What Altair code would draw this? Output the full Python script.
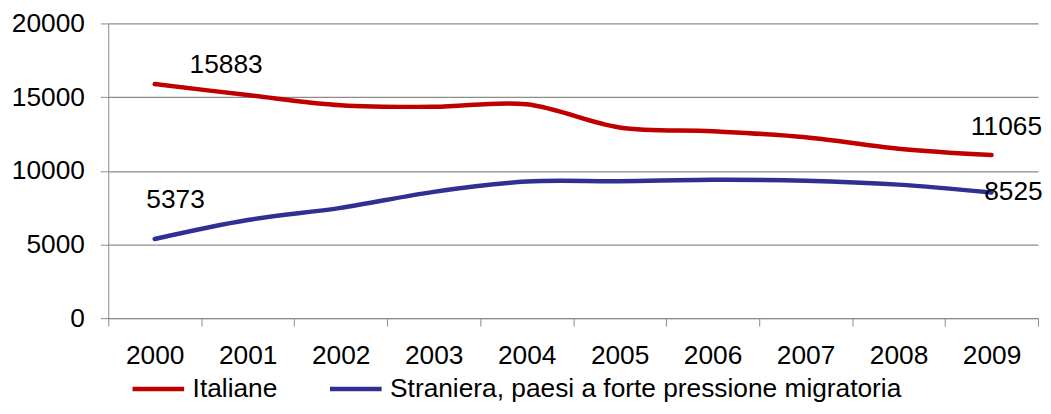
import altair as alt
import pandas as pd

years = ["2000", "2001", "2002", "2003", "2004", "2005", "2006", "2007", "2008", "2009"]
italiane = [15883, 15140, 14450, 14340, 14510, 12940, 12680, 12280, 11500, 11065]
straniera = [5373, 6660, 7480, 8570, 9270, 9290, 9390, 9330, 9060, 8525]
series_names = ["Italiane", "Straniera, paesi a forte pressione migratoria"]
colors = ["#C00000", "#2E3192"]

rows = []
for name, vals in zip(series_names, [italiane, straniera]):
    for y, v in zip(years, vals):
        rows.append({"anno": y, "valore": v, "serie": name})
df = pd.DataFrame(rows)

FONT = "Liberation Sans"
FS = 26.5
GRID = "#8C8C8C"

x = alt.X("anno:O", title=None,
          scale=alt.Scale(domain=years, paddingInner=0, paddingOuter=0),
          axis=alt.Axis(labelAngle=0, tickBand="extent", domainColor=GRID, tickColor=GRID,
                        tickSize=8, labelPadding=17, labelFont=FONT, labelFontSize=FS,
                        labelColor="#000000", grid=False))
y = alt.Y("valore:Q", title=None,
          scale=alt.Scale(domain=[0, 20000], nice=False),
          axis=alt.Axis(values=[0, 5000, 10000, 15000, 20000], format="d",
                        domainColor=GRID, tickColor=GRID, tickSize=8, labelPadding=16,
                        labelFont=FONT, labelFontSize=FS, labelColor="#000000",
                        grid=True, gridColor=GRID, gridWidth=1.3))

lines = alt.Chart(df).mark_line(strokeWidth=4.5, interpolate="catmull-rom", strokeCap="round").encode(
    x=x, y=y,
    color=alt.Color("serie:N",
                    scale=alt.Scale(domain=series_names, range=colors),
                    legend=alt.Legend(title=None, orient="none", direction="horizontal",
                                      legendX=22, legendY=340,
                                      symbolType="stroke", symbolSize=2704,
                                      symbolStrokeWidth=4.5, labelOffset=6,
                                      columnPadding=43, labelFont=FONT, labelFontSize=FS,
                                      labelLimit=0, labelColor="#000000"))
)

def label(serie, anno, dx, dy, align="center"):
    d = df[(df.serie == serie) & (df.anno == anno)]
    return alt.Chart(d).mark_text(font=FONT, fontSize=FS, color="#000000",
                                  dx=dx, dy=dy, align=align, baseline="middle").encode(
        x=alt.X("anno:O", scale=alt.Scale(domain=years, paddingInner=0, paddingOuter=0)),
        y=alt.Y("valore:Q", scale=alt.Scale(domain=[0, 20000], nice=False)),
        text=alt.Text("valore:Q", format="d"))

chart = alt.layer(
    lines,
    label(series_names[0], "2000", 72, -19),
    label(series_names[1], "2000", 21, -39),
    label(series_names[0], "2009", 15, -28),
    label(series_names[1], "2009", 22, 0),
).properties(
    width=937, height=297,
    autosize=alt.AutoSizeParams(type="none"),
    padding={"left": 101, "top": 14, "right": 5, "bottom": 87},
).configure_view(stroke=None)

chart.save("out.html", embed_options={"renderer": "svg", "actions": False})
